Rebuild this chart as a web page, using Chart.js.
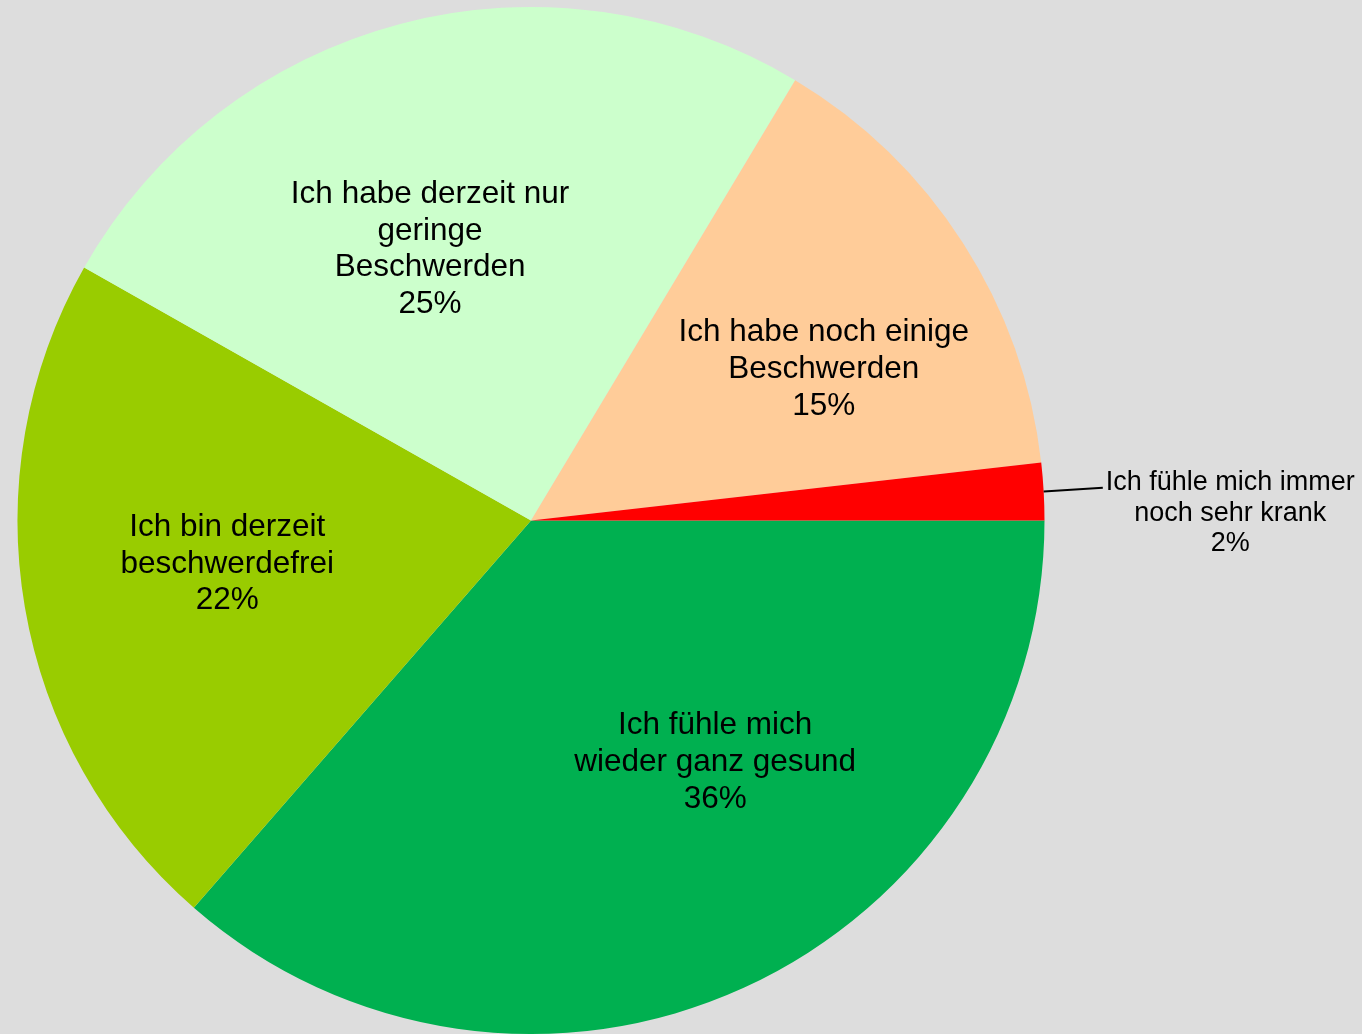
<!DOCTYPE html>
<html>
<head>
<meta charset="utf-8">
<script src="https://cdn.jsdelivr.net/npm/chart.js@4/dist/chart.umd.min.js"></script>
<style>
  html, body { margin: 0; padding: 0; background: #DDDDDD; }
  canvas { display: block; }
</style>
</head>
<body>
<canvas id="pie" width="1362" height="1034"></canvas>
<script>
// categories (label lines) in clockwise order starting at 3 o'clock
const categories = [
  ['Ich fühle mich', 'wieder ganz gesund'],
  ['Ich bin derzeit', 'beschwerdefrei'],
  ['Ich habe derzeit nur', 'geringe', 'Beschwerden'],
  ['Ich habe noch einige', 'Beschwerden'],
  ['Ich fühle mich immer', 'noch sehr krank']
];
const values = [36.4, 21.8, 25.4, 14.6, 1.8];
const sliceColors = ['#00B050', '#99CC00', '#CCFFCC', '#FFCC99', '#FF0000'];

// where each label sits: [fraction of slice angle, fraction of radius], outside = leader line
const labelPlaces = [
  { at: 0.40, r: 0.588 },
  { at: 0.526, r: 0.597 },
  { at: 0.44, r: 0.568 },
  { at: 0.596, r: 0.644 },
  { at: 0.876, r: 1.362, outside: true }
];

const sliceLabels = {
  id: 'sliceLabels',
  afterDatasetsDraw(chart) {
    const ctx = chart.ctx;
    const meta = chart.getDatasetMeta(0);
    const data = chart.data.datasets[0].data;
    const total = data.reduce((a, b) => a + b, 0);
    meta.data.forEach(function(arc, i) {
      const p = arc.getProps(['x', 'y', 'startAngle', 'endAngle', 'outerRadius'], true);
      const place = labelPlaces[i];
      const ang = p.startAngle + (p.endAngle - p.startAngle) * place.at;
      const cx = p.x + Math.cos(ang) * p.outerRadius * place.r;
      const cy = p.y + Math.sin(ang) * p.outerRadius * place.r + 2.5;
      const lines = chart.data.labels[i].concat([Math.round(data[i] / total * 100) + '%']);
      const size = place.outside ? 27 : 31.5;
      const lh = place.outside ? 30.5 : 36.7;
      ctx.save();
      ctx.font = size + 'px "Liberation Sans", Arial, sans-serif';
      ctx.fillStyle = '#000';
      ctx.textAlign = 'center';
      ctx.textBaseline = 'middle';
      const top = cy - lh * (lines.length - 1) / 2;
      lines.forEach(function(t, k) {
        ctx.fillText(t, cx, top + k * lh);
      });
      if (place.outside) {
        const mid = (p.startAngle + p.endAngle) / 2;
        const w = ctx.measureText(lines[0]).width;
        ctx.strokeStyle = '#000';
        ctx.lineWidth = 2;
        ctx.beginPath();
        ctx.moveTo(p.x + Math.cos(mid) * p.outerRadius, p.y + Math.sin(mid) * p.outerRadius);
        ctx.lineTo(cx - w / 2 - 3, top + 5);
        ctx.stroke();
      }
      ctx.restore();
    });
  }
};

new Chart(document.getElementById('pie').getContext('2d'), {
  type: 'pie',
  data: {
    labels: categories,
    datasets: [{
      data: values,
      backgroundColor: sliceColors,
      borderWidth: 0
    }]
  },
  options: {
    responsive: false,
    animation: false,
    rotation: 90,
    layout: { padding: { left: 17, top: 7, right: 317, bottom: 0 } },
    plugins: {
      legend: { display: false },
      tooltip: { enabled: false }
    }
  },
  plugins: [sliceLabels]
});
</script>
</body>
</html>
